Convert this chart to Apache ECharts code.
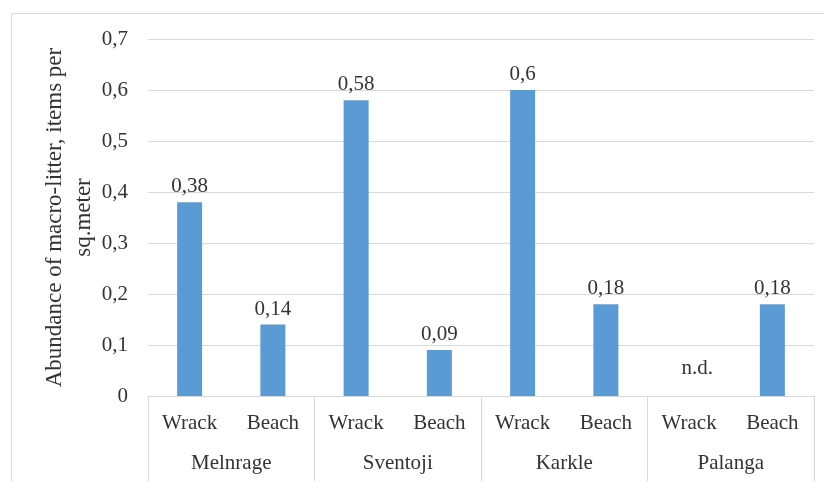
<!DOCTYPE html>
<html><head><meta charset="utf-8">
<script src="https://cdn.jsdelivr.net/npm/echarts@6/dist/echarts.min.js"></script>
<style>html,body{margin:0;padding:0;background:#fff}#c{width:824px;height:481px}</style>
</head><body><div id="c"></div>
<script>
const sites = ['Melnrage', 'Sventoji', 'Karkle', 'Palanga'];
const types = ['Wrack', 'Beach'];
const values = [0.38, 0.14, 0.58, 0.09, 0.6, 0.18, null, 0.18];
const yTicks = [0, 0.1, 0.2, 0.3, 0.4, 0.5, 0.6, 0.7];
const yTitle = 'Abundance of macro-litter, items per\nsq.meter';

const FONT = 'Liberation Serif';
const TXT = '#333333';
const GRID = '#d9d9d9';
const inner = [];
sites.forEach(() => types.forEach(t => inner.push(t)));
const fmt = v => v === 0 ? '0' : String(v).replace('.', ',');

const seriesData = values.map(v => v === null
  ? { value: 0, label: { formatter: 'n.d.', distance: 17, offset: [8, 0] } }
  : v);

const chart = echarts.init(document.getElementById('c'));
chart.setOption({
  animation: false,
  textStyle: { fontFamily: FONT },
  graphic: [{
    type: 'rect', shape: { x: 11.5, y: 13.5, width: 900, height: 600 },
    style: { fill: 'none', stroke: GRID, lineWidth: 1 }, silent: true
  }],
  grid: { left: 148, right: 10, top: 39, bottom: 85, containLabel: false },
  xAxis: [{
    type: 'category', data: inner, position: 'bottom',
    axisLine: { lineStyle: { color: GRID } }, axisTick: { show: false },
    axisLabel: { interval: 0, margin: 17, color: TXT, fontFamily: FONT, fontSize: 21 }
  }, {
    type: 'category', data: sites, position: 'bottom',
    axisLine: { show: false },
    axisTick: { show: true, interval: 0, length: 100, lineStyle: { color: GRID } },
    axisLabel: { interval: 0, margin: 57, color: TXT, fontFamily: FONT, fontSize: 21 }
  }],
  yAxis: {
    type: 'value', min: yTicks[0], max: yTicks[yTicks.length - 1], interval: 0.1,
    axisLine: { show: false }, axisTick: { show: false },
    splitLine: { lineStyle: { color: GRID } },
    axisLabel: { margin: 20, color: TXT, fontFamily: FONT, fontSize: 21, formatter: fmt },
    name: yTitle, nameLocation: 'middle', nameRotate: 90, nameGap: 50, nameMoveOverlap: false,
    nameTextStyle: { color: TXT, fontFamily: FONT, fontSize: 23, lineHeight: 29, align: 'center' }
  },
  series: [{
    type: 'bar', data: seriesData, xAxisIndex: 0, barWidth: 25,
    itemStyle: { color: '#5b9bd5' },
    label: { show: true, position: 'top', distance: 5, color: TXT, fontFamily: FONT, fontSize: 21,
      formatter: p => fmt(p.value) }
  }]
});
</script></body></html>
